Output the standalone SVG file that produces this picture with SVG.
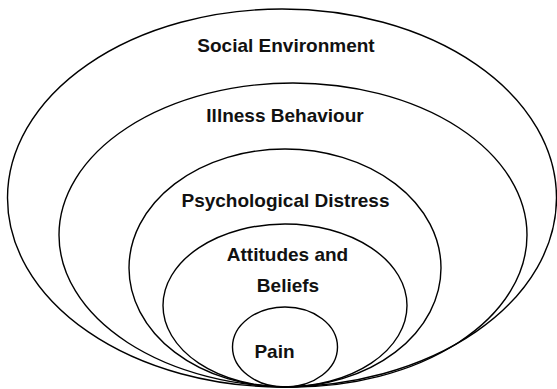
<svg xmlns="http://www.w3.org/2000/svg" width="557" height="389" viewBox="0 0 557 389">
<style>
.ring{fill:none;stroke:#000;stroke-width:1.4}
.lbl{font-family:"Liberation Sans",Arial,sans-serif;font-weight:bold;font-size:19px;fill:#111;text-anchor:middle}
</style>
<rect width="557" height="389" fill="#fff"/>
<g id="social-environment">
<ellipse class="ring" cx="282" cy="198" rx="274.5" ry="189"/>
<text class="lbl" x="286" y="52">Social Environment</text>
</g>
<g id="illness-behaviour">
<ellipse class="ring" cx="293" cy="235" rx="234" ry="152"/>
<text class="lbl" x="285" y="122">Illness Behaviour</text>
</g>
<g id="psychological-distress">
<ellipse class="ring" cx="285" cy="268" rx="156" ry="119"/>
<text class="lbl" x="285.5" y="206.5">Psychological Distress</text>
</g>
<g id="attitudes-beliefs">
<ellipse class="ring" cx="285" cy="305.5" rx="122" ry="81.5"/>
<text class="lbl" x="287.5" y="261">Attitudes and</text>
<text class="lbl" x="288" y="291.5">Beliefs</text>
</g>
<g id="pain">
<ellipse class="ring" cx="285" cy="347" rx="52.5" ry="40"/>
<text class="lbl" x="274.5" y="358">Pain</text>
</g>
<g id="connectors"/>
</svg>
